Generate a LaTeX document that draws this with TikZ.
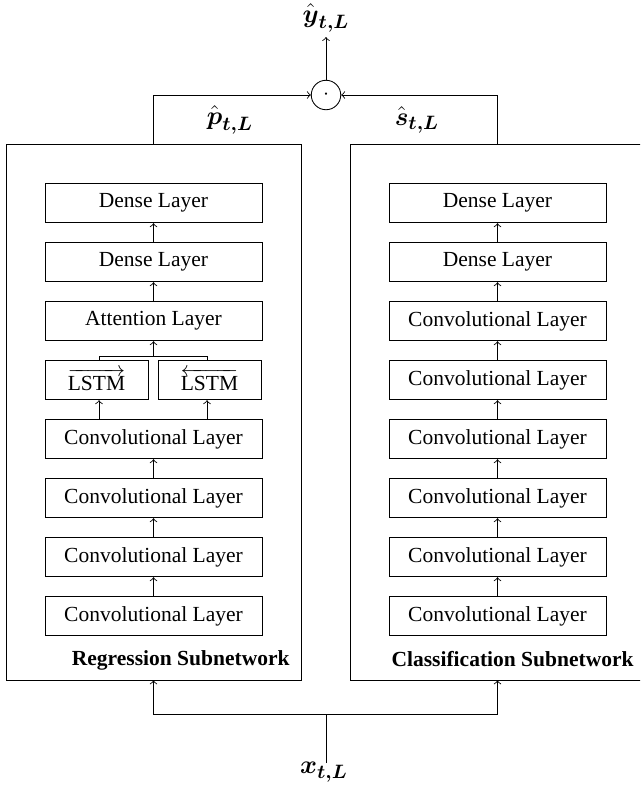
\documentclass[tikz,border=0pt]{standalone}
\usepackage{amsmath}
\usepackage{fontspec}
\setmainfont{LiberationSerif}[Extension=.ttf, UprightFont=*-Regular, BoldFont=*-Bold, ItalicFont=*-Italic, BoldItalicFont=*-BoldItalic]
\begin{document}
\begin{tikzpicture}[x=0.465pt,y=-0.465pt,
  layer/.style={draw, rectangle, minimum width=100.9pt, minimum height=18.4pt, inner sep=0pt, font=\fontsize{10}{12}\selectfont},
  halfbox/.style={draw, rectangle, minimum width=47.9pt, minimum height=18.4pt, inner sep=0pt, font=\fontsize{10}{12}\selectfont},
  subnet/.style={draw, rectangle, minimum width=137.2pt, minimum height=249.2pt, inner sep=0pt},
  conn/.style={->, line width=0.4pt},
  line/.style={line width=0.4pt},
  mathlbl/.style={font=\fontsize{13}{15}\selectfont, inner sep=0pt},
  netlbl/.style={anchor=east, font=\fontsize{10}{12}\selectfont\bfseries, inner sep=0pt}
]
\useasboundingbox (0,0) rectangle (640,785);
\clip (0,0) rectangle (640,785);

% subnetwork frames
\node[subnet] (reg) at (153.5,412) {};
\node[subnet] (cls) at (497.5,412) {};

% regression column
\node[layer] (l0) at (153.5,203) {Dense Layer};
\node[layer] (l1) at (153.5,262) {Dense Layer};
\node[layer] (l2) at (153.5,321) {Attention Layer};
\node[halfbox] (lf) at (96.5,380) {$\overrightarrow{\text{LSTM}}$};
\node[halfbox] (lb) at (209.5,380) {$\overleftarrow{\text{LSTM}}$};
\node[layer] (l4) at (153.5,439) {Convolutional Layer};
\node[layer] (l5) at (153.5,498) {Convolutional Layer};
\node[layer] (l6) at (153.5,557) {Convolutional Layer};
\node[layer] (l7) at (153.5,616) {Convolutional Layer};

% classification column
\node[layer] (r0) at (497.5,203) {Dense Layer};
\node[layer] (r1) at (497.5,262) {Dense Layer};
\node[layer] (r2) at (497.5,321) {Convolutional Layer};
\node[layer] (r3) at (497.5,380) {Convolutional Layer};
\node[layer] (r4) at (497.5,439) {Convolutional Layer};
\node[layer] (r5) at (497.5,498) {Convolutional Layer};
\node[layer] (r6) at (497.5,557) {Convolutional Layer};
\node[layer] (r7) at (497.5,616) {Convolutional Layer};

\node[netlbl] (reglbl) at (290,660) {Regression Subnetwork};
\node[netlbl] (clslbl) at (634,659) {Classification Subnetwork};

% arrows regression
\draw[conn] (l1) -- (l0);
\draw[conn] (l2) -- (l1);
\coordinate (brL) at (99,356);
\coordinate (brR) at (207,356);
\coordinate (brM) at (153.5,356);
\draw[line] (lf.north -| brL) -- (brL) -- (brR) -- (lb.north -| brR);
\draw[conn] (brM) -- (l2.south);
\draw[conn] (l4.north -| brL) -- (lf.south -| brL);
\draw[conn] (l4.north -| brR) -- (lb.south -| brR);
\draw[conn] (l5) -- (l4);
\draw[conn] (l6) -- (l5);
\draw[conn] (l7) -- (l6);

% arrows classification
\draw[conn] (r1) -- (r0);
\draw[conn] (r2) -- (r1);
\draw[conn] (r3) -- (r2);
\draw[conn] (r4) -- (r3);
\draw[conn] (r5) -- (r4);
\draw[conn] (r6) -- (r5);
\draw[conn] (r7) -- (r6);

% product and output
\node[draw, circle, minimum size=13.7pt, inner sep=0pt] (prod) at (326,95) {$\cdot$};
\coordinate (ytip) at (326,37);
\node[mathlbl] (yhat) at (326,18) {$\hat{\boldsymbol{y}}_{\boldsymbol{t,L}}$};
\draw[conn] (prod.north) -- (ytip);
\draw[conn] (reg.north) |- (prod.west);
\draw[conn] (cls.north) |- (prod.east);
\node[mathlbl] (phat) at (230,120) {$\hat{\boldsymbol{p}}_{\boldsymbol{t,L}}$};
\node[mathlbl] (shat) at (417,120) {$\hat{\boldsymbol{s}}_{\boldsymbol{t,L}}$};

% input
\node[mathlbl] (xin) at (324,772) {$\boldsymbol{x}_{\boldsymbol{t,L}}$};
\coordinate (xtop) at (326,763);
\coordinate (split) at (326,714);
\draw[line] (xtop) -- (split);
\draw[conn] (split) -| (reg.south);
\draw[conn] (split) -| (cls.south);
\end{tikzpicture}
\end{document}
